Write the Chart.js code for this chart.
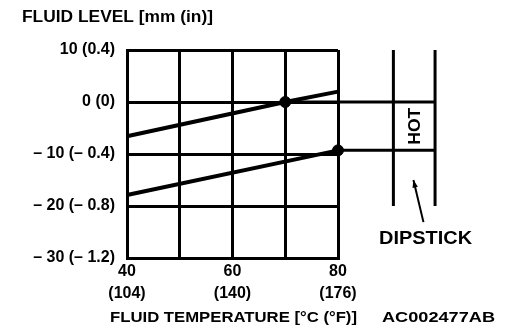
<!DOCTYPE html>
<html>
<head>
<meta charset="utf-8">
<script src="https://cdn.jsdelivr.net/npm/chart.js@4"></script>
<style>
    body { margin: 0; background: #fff; }
    #wrap { width: 512px; height: 336px; }
</style>
</head>
<body>
<div id="wrap"><canvas id="levelChart" width="512" height="336"></canvas></div>
<script>
// fluid temperature [deg C] vs fluid level [mm]
const upperTemps = [40, 70, 80];
const upperLevels = [-6.6, 0, 2.0];
const lowerTemps = [40, 80];
const lowerLevels = [-17.9, -9.3];

// marks on the dipstick and the dots that meet them
const markTemps = [70, 80];
const markLevels = [0, -9.3];

// dipstick drawn in the same units, right of the grid
const dipstickX = [90.5, 98.4];
const dipstickTop = 10;
const dipstickBottom = -20;

const xTickLabels = { 40: ['40', '(104)'], 60: ['60', '(140)'], 80: ['80', '(176)'] };
const yTickLabels = { 10: '10 (0.4)', 0: '0 (0)', '-10': '\u2013 10 (\u2013 0.4)', '-20': '\u2013 20 (\u2013 0.8)', '-30': '\u2013 30 (\u2013 1.2)' };

const FONT = 'Liberation Sans, Arial, sans-serif';

function pts(xs, ys) {
    return xs.map((x, i) => ({ x: x, y: ys[i] }));
}

function lineSet(data, width) {
    return {
        type: 'line',
        data: data,
        borderColor: '#000',
        borderWidth: width,
        pointRadius: 0,
        clip: false,
        tension: 0
    };
}

const datasets = [
    lineSet(pts(upperTemps, upperLevels), 4),
    lineSet(pts(lowerTemps, lowerLevels), 4),
    // level marks running across to the dipstick
    lineSet([{ x: markTemps[0], y: markLevels[0] }, { x: dipstickX[1], y: markLevels[0] }], 3),
    lineSet([{ x: markTemps[1], y: markLevels[1] }, { x: dipstickX[1], y: markLevels[1] }], 3),
    // dipstick sides
    lineSet([{ x: dipstickX[0], y: dipstickTop }, { x: dipstickX[0], y: dipstickBottom }], 3),
    lineSet([{ x: dipstickX[1], y: dipstickTop }, { x: dipstickX[1], y: dipstickBottom }], 3),
    {
        type: 'scatter',
        data: pts(markTemps, markLevels),
        backgroundColor: '#000',
        borderColor: '#000',
        pointRadius: 5.5,
        clip: false
    }
];

const notes = {
    id: 'notes',
    afterDraw(chart) {
        const ctx = chart.ctx;
        const xs = chart.scales.x, ys = chart.scales.y;
        ctx.save();
        ctx.fillStyle = '#000';
        ctx.strokeStyle = '#000';

        function text(str, x, y, size, width, align) {
            ctx.font = 'bold ' + size + 'px ' + FONT;
            const w = ctx.measureText(str).width;
            ctx.save();
            ctx.translate(x, y);
            ctx.scale(width / w, 1);
            ctx.textBaseline = 'middle';
            ctx.textAlign = align || 'left';
            ctx.fillText(str, 0, 0);
            ctx.restore();
        }

        text('FLUID LEVEL [mm (in)]', 22, 18, 16, 191);
        text('FLUID TEMPERATURE [\u00B0C (\u00B0F)]', 110, 318, 15, 247);
        text('AC002477AB', 382, 318, 15, 113);

        // HOT, written upward between the two marks
        const hx = (xs.getPixelForValue(dipstickX[0]) + xs.getPixelForValue(dipstickX[1])) / 2;
        const hy = (ys.getPixelForValue(markLevels[0]) + ys.getPixelForValue(markLevels[1])) / 2;
        ctx.save();
        ctx.translate(hx, hy);
        ctx.rotate(-Math.PI / 2);
        text('HOT', 0, 1, 17, 37, 'center');
        ctx.restore();

        // DIPSTICK label and its arrow
        text('DIPSTICK', xs.getPixelForValue(96.6), ys.getPixelForValue(-26.3), 18, 93, 'center');
        const ax0 = xs.getPixelForValue(96.2), ay0 = ys.getPixelForValue(-23.1);
        const ax1 = xs.getPixelForValue(94.3), ay1 = ys.getPixelForValue(-15);
        ctx.lineWidth = 2;
        ctx.beginPath();
        ctx.moveTo(ax0, ay0);
        ctx.lineTo(ax1, ay1);
        ctx.stroke();
        const ang = Math.atan2(ay1 - ay0, ax1 - ax0);
        ctx.beginPath();
        ctx.moveTo(ax1, ay1);
        ctx.lineTo(ax1 - 8 * Math.cos(ang - 0.35), ay1 - 8 * Math.sin(ang - 0.35));
        ctx.lineTo(ax1 - 8 * Math.cos(ang + 0.35), ay1 - 8 * Math.sin(ang + 0.35));
        ctx.closePath();
        ctx.fill();
        ctx.restore();
    }
};

new Chart(document.getElementById('levelChart').getContext('2d'), {
    type: 'line',
    data: { datasets: datasets },
    options: {
        responsive: false,
        animation: false,
        layout: { padding: { top: 50, right: 174, bottom: 0, left: 0 } },
        plugins: {
            legend: { display: false },
            tooltip: { enabled: false }
        },
        scales: {
            x: {
                type: 'linear',
                min: 40,
                max: 80,
                afterFit(scale) { scale.height = 78; },
                grid: { color: '#000', lineWidth: 3, drawTicks: false },
                border: { color: '#000', width: 3 },
                ticks: {
                    stepSize: 10,
                    padding: 3,
                    maxRotation: 0,
                    autoSkip: false,
                    color: '#000',
                    font: { family: FONT, size: 16, weight: 'bold', lineHeight: 1.35 },
                    callback: value => xTickLabels[value] || ''
                }
            },
            y: {
                type: 'linear',
                min: -30,
                max: 10,
                afterFit(scale) { scale.width = 127; },
                grid: { color: '#000', lineWidth: 3, drawTicks: false },
                border: { color: '#000', width: 3 },
                ticks: {
                    stepSize: 10,
                    padding: 12,
                    color: '#000',
                    font: { family: FONT, size: 16, weight: 'bold' },
                    callback: value => yTickLabels[value] || ''
                }
            }
        }
    },
    plugins: [notes]
});
</script>
</body>
</html>
